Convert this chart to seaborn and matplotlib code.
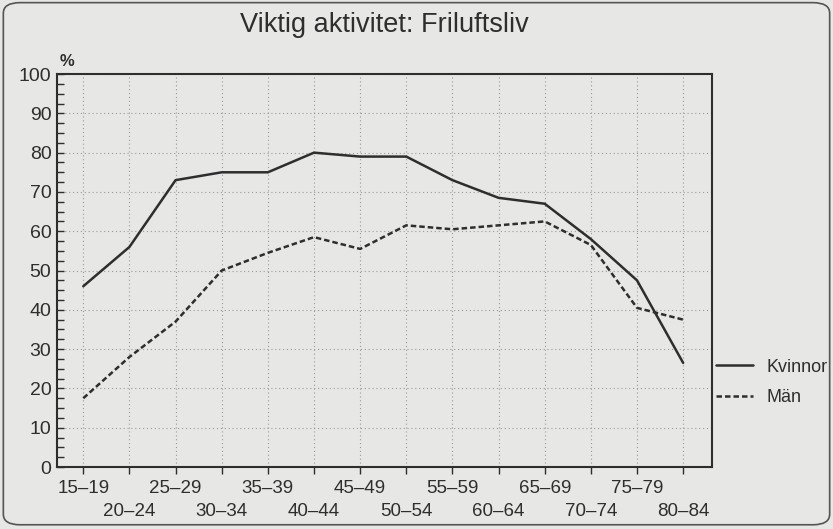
import matplotlib
matplotlib.use("Agg")
import matplotlib.pyplot as plt
from matplotlib.patches import FancyBboxPatch
from matplotlib.ticker import MultipleLocator
import seaborn as sns
import pandas as pd

age_groups = ["15–19", "20–24", "25–29", "30–34", "35–39", "40–44", "45–49",
              "50–54", "55–59", "60–64", "65–69", "70–74", "75–79", "80–84"]
kvinnor = [46, 56, 73, 75, 75, 80, 79, 79, 73, 68.5, 67, 58, 47.5, 26.5]
man = [17.5, 28, 37, 50, 54.5, 58.5, 55.5, 61.5, 60.5, 61.5, 62.5, 56.5, 40.5, 37.5]
series_names = ["Kvinnor", "Män"]
title = "Viktig aktivitet: Friluftsliv"

rows = []
for i, g in enumerate(age_groups):
    rows.append({"pos": i, "grupp": g, "serie": series_names[0], "värde": kvinnor[i]})
    rows.append({"pos": i, "grupp": g, "serie": series_names[1], "värde": man[i]})
df = pd.DataFrame(rows)

paper = "#e7e7e5"
ink = "#2e2e2e"

sns.set_theme(style="white")
plt.rcParams["font.family"] = ["Liberation Sans", "DejaVu Sans"]

fig = plt.figure(figsize=(8.33, 5.29), dpi=100, facecolor=paper)
ax = fig.add_axes([0.0684, 0.1172, 0.7866, 0.7428])
ax.set_facecolor(paper)

sns.lineplot(data=df, x="pos", y="värde", hue="serie", style="serie",
             palette={series_names[0]: ink, series_names[1]: ink},
             dashes={series_names[0]: "", series_names[1]: (2.2, 1.2)},
             linewidth=1.8, ax=ax, legend=True)

ax.set_xlim(-0.57, 13.63)
ax.set_ylim(0, 100)
even = list(range(0, len(age_groups), 2))
odd = list(range(1, len(age_groups), 2))
ax.set_xticks(even)
ax.set_xticklabels([age_groups[i] for i in even], fontsize=13.5, color=ink)
ax.set_xticks(odd, minor=True)
ax.set_xticklabels([age_groups[i] for i in odd], minor=True, fontsize=13.5, color=ink)
ax.yaxis.set_major_locator(MultipleLocator(10))
ax.yaxis.set_minor_locator(MultipleLocator(2.5))
ax.tick_params(axis="y", which="both", direction="in", length=5, width=1, color=ink,
               left=True, labelsize=14, labelcolor=ink, pad=4)
ax.tick_params(axis="x", which="major", direction="out", length=5, width=1, color=ink,
               bottom=True, pad=4)
ax.tick_params(axis="x", which="minor", direction="out", length=5, width=1, color=ink,
               bottom=True, pad=21)
ax.set_xlabel("")
ax.set_ylabel("")
ax.grid(True, which="major", linestyle=(0, (1, 2.5)), color="#9a9a9a", linewidth=0.8)
ax.xaxis.grid(True, which="minor", linestyle=(0, (1, 2.5)), color="#9a9a9a", linewidth=0.8)
for sp in ax.spines.values():
    sp.set_color(ink)
    sp.set_linewidth(1.5)
    sp.set_visible(True)

ax.text(0.004, 1.012, "%", transform=ax.transAxes, fontsize=12, color=ink,
        ha="left", va="bottom", fontweight="bold")

leg = ax.legend(loc="center left", bbox_to_anchor=(0.859, 0.277),
                bbox_transform=fig.transFigure, frameon=False,
                fontsize=13, handlelength=2.1, handletextpad=0.7,
                labelspacing=0.75, borderaxespad=0, borderpad=0)
for t in leg.get_texts():
    t.set_color(ink)

fig.text(0.462, 0.953, title, ha="center", va="center", fontsize=19.5, color=ink)

border = FancyBboxPatch((0.004, 0.008), 0.992, 0.987, boxstyle="round,pad=0,rounding_size=0.02",
                        transform=fig.transFigure, facecolor="none", edgecolor="#555555",
                        linewidth=1.2)
fig.patches.append(border)

fig.savefig("out.png", dpi=100, facecolor=paper)
